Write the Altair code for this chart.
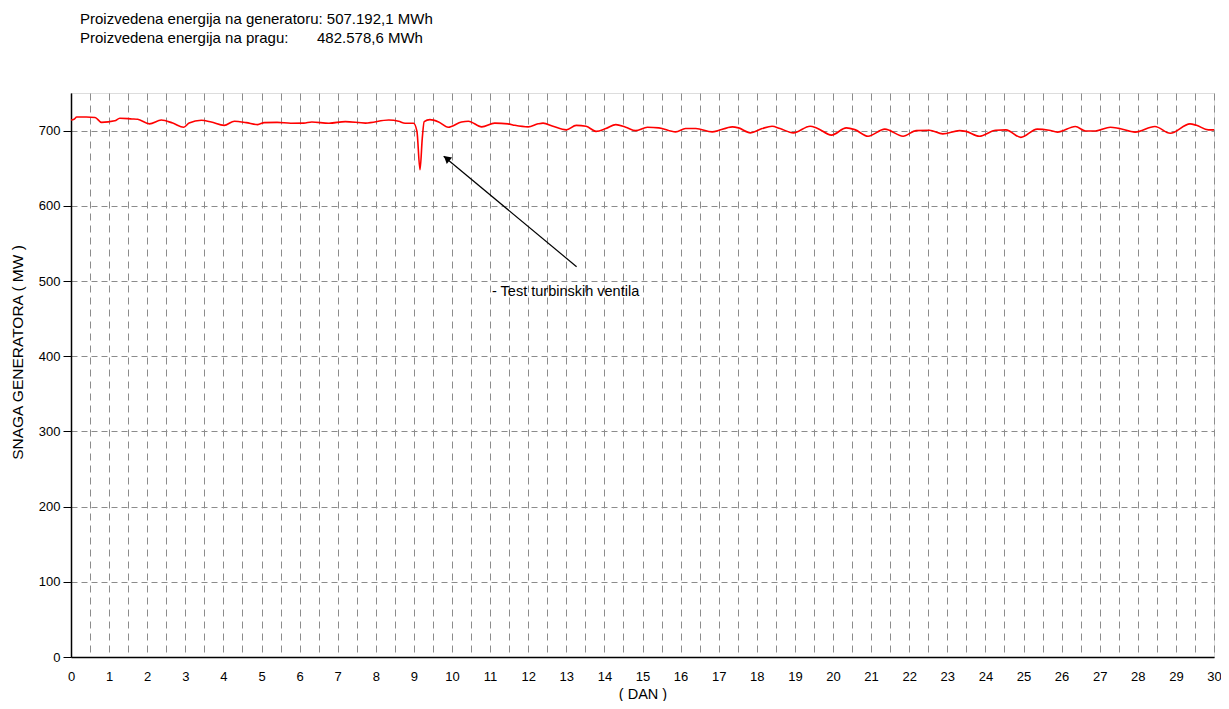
import altair as alt
import pandas as pd

days = [0.0, 0.08, 0.15, 0.4, 0.63, 0.8, 1.15, 1.28, 1.6, 1.75, 2.06, 2.37, 2.67, 2.96, 3.1,
        3.42, 3.68, 4.02, 4.29, 4.6, 4.9, 5.07, 5.41, 5.77, 6.11, 6.32, 6.77, 7.2, 7.73, 8.34,
        8.6, 8.77, 8.99, 9.08, 9.16, 9.22, 9.27, 9.42, 9.65, 9.9, 10.25, 10.43, 10.78, 11.12,
        11.47, 11.65, 12.0, 12.26, 12.39, 12.65, 13.0, 13.26, 13.52, 13.78, 14.04, 14.3, 14.56,
        14.82, 15.13, 15.43, 15.87, 16.13, 16.4, 16.83, 17.36, 17.52, 17.83, 18.14, 18.4, 18.61,
        18.96, 19.4, 19.57, 19.96, 20.35, 20.57, 20.92, 21.36, 21.84, 22.18, 22.53, 22.88, 23.32,
        23.49, 23.84, 24.27, 24.54, 24.93, 25.36, 25.67, 25.89, 26.36, 26.63, 26.89, 27.28, 27.5,
        27.93, 28.45, 28.85, 29.37, 29.54, 29.85, 30.0]
power = [714, 715, 718, 718, 717.5, 711, 713, 716.5, 715.5, 715, 709, 714, 710, 704.5, 710,
         713.8, 711.5, 707, 712.5, 710.6, 708, 710.6, 711, 709.8, 710, 711.5, 709.8, 712, 710, 714,
         712.5, 709.8, 709.8, 699, 648, 690, 712, 714.6, 711.5, 704.5, 711.5, 712.5, 705, 710,
         709, 707, 705, 709, 710, 705.8, 701, 707, 705.8, 699, 702.7, 708, 704.5,
         700, 704.5, 703.6, 698.3, 702.7, 702.7, 698.3, 705, 703.6, 697, 702.7, 705.8, 702.7,
         697, 705.8, 703.6, 694, 703.6, 701.3, 692.5, 702, 692.5, 700, 700.5, 695.6, 700,
         699, 692.5, 700.5, 701, 691, 702, 700.5, 698, 705.5, 699.5, 699.5, 704.5, 703,
         698, 705.5, 696.5, 709, 707, 701, 701]

header_line1 = "Proizvedena energija na generatoru: 507.192,1 MWh"
header_line2a = "Proizvedena energija na pragu:"
header_line2b = "482.578,6 MWh"
annotation_text = "- Test turbinskih ventila"
y_title = "SNAGA GENERATORA ( MW )"
x_title = "( DAN )"

x_grid_values = [i * 0.5 for i in range(61)]
y_ticks = [0, 100, 200, 300, 400, 500, 600, 700]

FONT = "Liberation Sans"
W, H = 1143, 564

df = pd.DataFrame({"dan": days, "snaga": power})

xscale = alt.Scale(domain=[0, 30], nice=False, zero=False)
yscale = alt.Scale(domain=[0, 750], nice=False)

x_axis = alt.Axis(
    values=x_grid_values,
    labelExpr="datum.value % 1 == 0 ? format(datum.value, 'd') : ''",
    ticks=False,
    labelPadding=13,
    labelFont=FONT, labelFontSize=13, labelColor="#000",
    grid=True, gridColor="#8c8c8c", gridDash=[7, 5], gridWidth=1,
    domainColor="#000", domainWidth=1.5,
    title=x_title, titleFont=FONT, titleFontSize=14.5, titleFontWeight="normal",
    titleColor="#000", titleX=W / 2, titleY=37, titleBaseline="middle", titleAlign="center",
    labelFlush=False, labelOverlap=False, labelBound=False,
)
y_axis = alt.Axis(
    values=y_ticks,
    tickSize=8, tickColor="#000", tickWidth=1,
    labelPadding=3,
    labelFont=FONT, labelFontSize=13, labelColor="#000",
    grid=True, gridColor="#8c8c8c", gridDash=[6, 4], gridWidth=1,
    domainColor="#000", domainWidth=1.5,
    title=y_title, titleFont=FONT, titleFontSize=15.5, titleFontWeight="normal",
    titleColor="#000", titleX=-54, titleY=259, titleAngle=-90,
    titleBaseline="middle", titleAlign="center",
)


def X(field):
    return alt.X(field, scale=xscale, axis=x_axis)


def Y(field):
    return alt.Y(field, scale=yscale, axis=y_axis)


line = alt.Chart(df).mark_line(color="#ff0000", strokeWidth=1.6, interpolate="monotone").encode(
    x=X("dan:Q"), y=Y("snaga:Q"),
)

arrow_df = pd.DataFrame({"x1": [13.27], "y1": [519], "x2": [9.78], "y2": [666]})
arrow_line = alt.Chart(arrow_df).mark_rule(color="#000", strokeWidth=1.2).encode(
    x=X("x1:Q"), y=Y("y1:Q"), x2="x2:Q", y2="y2:Q",
)
head_df = pd.DataFrame({"x": [9.86], "y": [663]})
arrow_head = alt.Chart(head_df).mark_point(
    shape="triangle-up", filled=True, color="#000", size=70, angle=310, opacity=1
).encode(x=X("x:Q"), y=Y("y:Q"))

ann_df = pd.DataFrame({"x": [11.05], "y": [485], "t": [annotation_text]})
ann = alt.Chart(ann_df).mark_text(
    align="left", baseline="middle", font=FONT, fontSize=14.5, color="#000"
).encode(x=X("x:Q"), y=Y("y:Q"), text="t:N")


def header_text(txt, px, py):
    return alt.Chart(df).mark_text(
        align="left", baseline="middle", font=FONT, fontSize=15, color="#000"
    ).encode(x=alt.value(px), y=alt.value(py), text=alt.value(txt)).transform_filter(
        "datum.dan == 0"
    )


h1 = header_text(header_line1, 9, -74)
h2 = header_text(header_line2a, 9, -55)
h3 = header_text(header_line2b, 246, -55)

chart = alt.layer(line, arrow_line, arrow_head, ann, h1, h2, h3).properties(
    width=W, height=H,
    autosize=alt.AutoSizeParams(type="none"),
    padding={"left": 63, "top": 85, "right": 7, "bottom": 44},
).configure_view(stroke="#8c8c8c", strokeWidth=1.5).configure(background="white")

chart.save("out.html", embed_options={"renderer": "svg", "actions": False})
